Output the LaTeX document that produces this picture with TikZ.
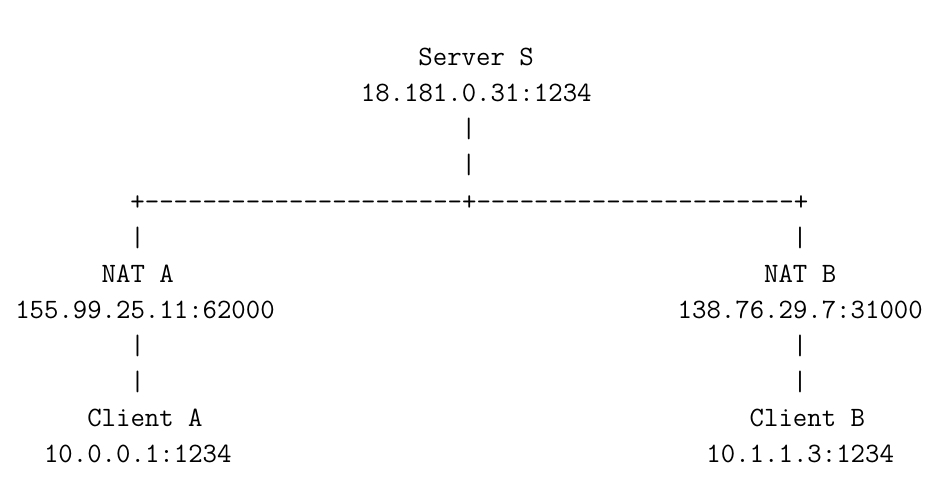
\documentclass[tikz,border=0pt]{standalone}
\usepackage{fontspec}
\setmonofont{Latin Modern Mono}
\usepackage{tikz}

\tikzset{txt/.style={anchor=base west,inner sep=0pt,font=\ttfamily\fontsize{21}{21}\selectfont}}

\begin{document}
\begin{tikzpicture}[x=0.75pt,y=0.75pt,yscale=-1,xscale=1]

\useasboundingbox (0,0) rectangle (944,488);

% server
\draw (418.2,66) node [txt] (srvName) {Server S};
\draw (360.6,102) node [txt] (srvAddr) {18.181.0.31:1234};
\draw (461.4,138) node [txt] (srvPipeA) {|};
\draw (461.4,174) node [txt] (srvPipeB) {|};

% branch line
\draw (130.2,210) node [txt] (branch) {+----------------------+----------------------+};

% left side
\draw (130.2,246) node [txt] (pipeA1) {|};
\draw (101.4,282) node [txt] (natAName) {NAT A};
\draw (15,318) node [txt] (natAAddr) {155.99.25.11:62000};
\draw (130.2,354) node [txt] (pipeA2) {|};
\draw (130.2,390) node [txt] (pipeA3) {|};
\draw (87,426) node [txt] (cliAName) {Client A};
\draw (43.8,462) node [txt] (cliAAddr) {10.0.0.1:1234};

% right side
\draw (792.6,246) node [txt] (pipeB1) {|};
\draw (763.8,282) node [txt] (natBName) {NAT B};
\draw (677.4,318) node [txt] (natBAddr) {138.76.29.7:31000};
\draw (792.6,354) node [txt] (pipeB2) {|};
\draw (792.6,390) node [txt] (pipeB3) {|};
\draw (749.4,426) node [txt] (cliBName) {Client B};
\draw (706.2,462) node [txt] (cliBAddr) {10.1.1.3:1234};

\end{tikzpicture}
\end{document}
